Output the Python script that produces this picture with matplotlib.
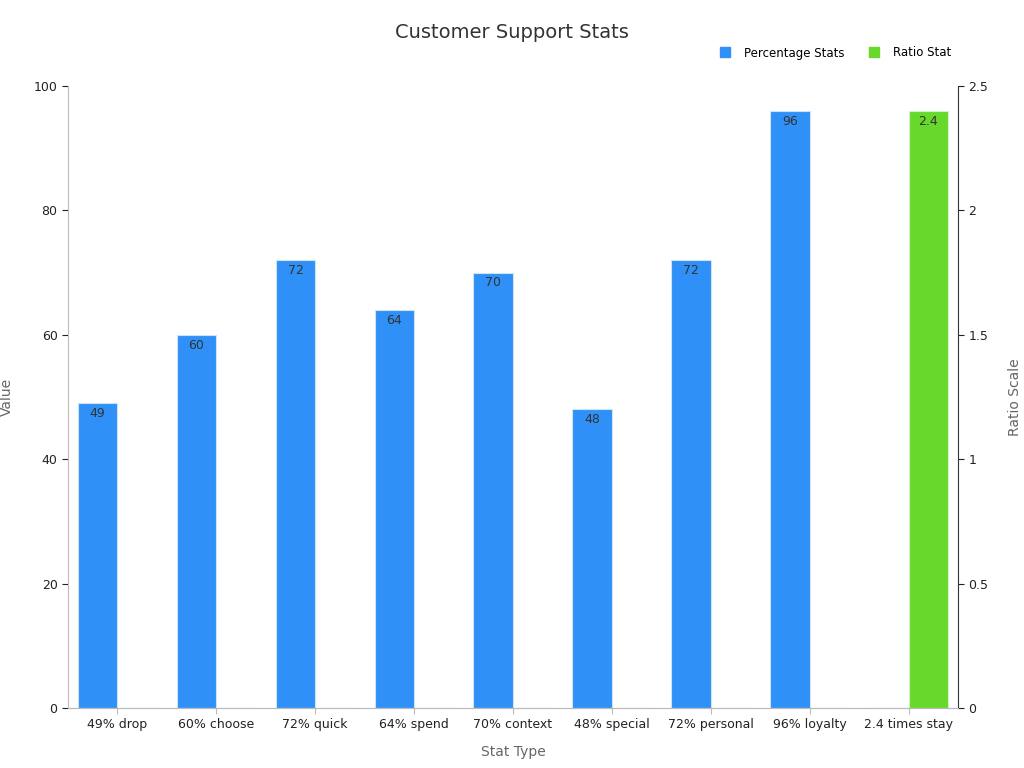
import matplotlib
matplotlib.use("Agg")
import matplotlib.pyplot as plt
import numpy as np

categories = ["49% drop", "60% choose", "72% quick", "64% spend", "70% context",
              "48% special", "72% personal", "96% loyalty", "2.4 times stay"]
pct_values = [49, 60, 72, 64, 70, 48, 72, 96, 0]
ratio_values = [0, 0, 0, 0, 0, 0, 0, 0, 2.4]

fig = plt.figure(figsize=(10.24, 7.68), dpi=100)
ax = fig.add_axes([68/1024, 60/768, 890/1024, 622/768])
ax2 = ax.twinx()
x = np.arange(len(categories))
w = 0.4
blue = "#2f91f7"; green = "#66d92a"
b1 = ax.bar(x - w/2, pct_values, w, color=blue, edgecolor="#cfe3f5", linewidth=0.8, label="Percentage Stats")
b2 = ax2.bar(x + w/2, ratio_values, w, color=green, edgecolor="#d8f0c8", linewidth=0.8, label="Ratio Stat")
for r, v in zip(b1, pct_values):
    if v > 0:
        ax.text(r.get_x() + r.get_width()/2, v - 0.6, f"{v}", ha="center", va="top", fontsize=9, color="#333333")
for r, v in zip(b2, ratio_values):
    if v > 0:
        ax2.text(r.get_x() + r.get_width()/2, v - 0.015, f"{v}", ha="center", va="top", fontsize=9, color="#333333")
ax.set_xlim(-0.5, len(categories) - 0.5)
ax.set_ylim(0, 100)
ax2.set_ylim(0, 2.5)
ax.set_yticks([0, 20, 40, 60, 80, 100])
ax2.set_yticks([0, 0.5, 1, 1.5, 2, 2.5])
ax2.set_yticklabels(["0", "0.5", "1", "1.5", "2", "2.5"])
ax.set_xticks(x)
ax.set_xticklabels(categories, fontsize=9, color="#222222")
for a in (ax, ax2):
    a.tick_params(labelsize=9, colors="#222222", length=4)
    a.spines["top"].set_visible(False)
    for s in ["left", "right", "bottom"]:
        a.spines[s].set_color("#bbbbbb")
ax.spines["right"].set_visible(False)
ax2.spines["left"].set_visible(False)
ax2.spines["right"].set_color("#333333")
ax.tick_params(axis="x", colors="#bbbbbb", labelcolor="#222222")
ax.set_xlabel("Stat Type", fontsize=10, color="#666666", labelpad=10)
ax.set_ylabel("Value", fontsize=10, color="#666666", labelpad=14)
ax2.set_ylabel("Ratio Scale", fontsize=10, color="#666666", labelpad=14)
fig.text(0.5, 1 - 33/768, "Customer Support Stats", ha="center", va="center", fontsize=14, color="#333333")
h = [plt.Line2D([], [], marker="s", linestyle="", color=blue, markersize=7),
     plt.Line2D([], [], marker="s", linestyle="", color=green, markersize=7)]
fig.legend(h, ["Percentage Stats", "Ratio Stat"], loc="center right", bbox_to_anchor=(962/1024, 1 - 53/768),
           ncol=2, frameon=False, fontsize=8.5, handletextpad=0.6, columnspacing=1.5)
fig.savefig("out.png", dpi=100)
